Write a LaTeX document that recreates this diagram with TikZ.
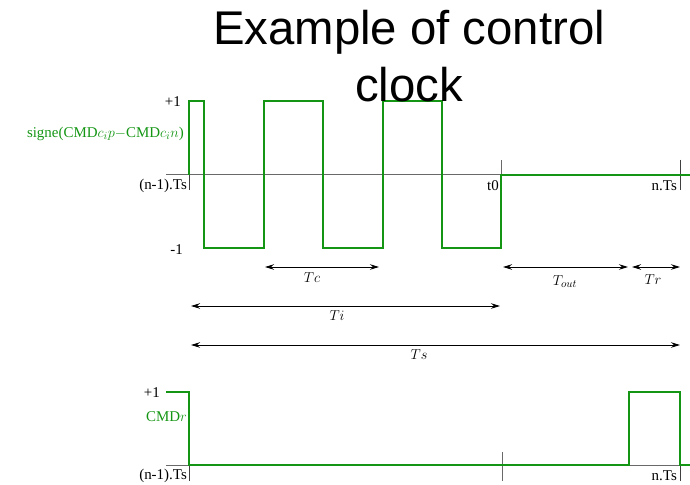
\documentclass[tikz,border=0pt]{standalone}
\usepackage{fontspec}
\setmainfont{Liberation Serif}
\newfontfamily\titlefont{Liberation Sans}
\usetikzlibrary{arrows.meta}
\definecolor{sigGreen}{RGB}{20,150,20}
\definecolor{axisGray}{RGB}{105,105,105}

\begin{document}
\begin{tikzpicture}[x=1bp, y=-1bp, >={Stealth[length=9bp, width=5.5bp]},
    sig/.style={sigGreen, line width=2bp},
    axe/.style={axisGray, line width=1bp},
    tck/.style={black!75, line width=0.9bp},
    lbl/.style={font=\fontsize{15}{17}\selectfont, inner sep=1bp},
    dim/.style={<->, line width=1bp}]
    \useasboundingbox (0,0) rectangle (690,485);

    % Upper chart: axis and time marks
    \coordinate (uStart) at (166,175);
    \coordinate (uEnd) at (690,175);
    \draw[axe] (uStart) -- (uEnd);
    \draw[tck] (189,175) -- (189,190);
    \draw[axe] (501,160) -- (501,175);
    \draw[tck] (680,160) -- (680,190);

    % Sign of the command: pulses between +1 (y=101) and -1 (y=248)
    \draw[sig] (189,175) -- (189,101) -- (204,101) -- (204,248)
        -- (264,248) -- (264,101) -- (323,101) -- (323,248)
        -- (383,248) -- (383,101) -- (442,101) -- (442,248)
        -- (501,248) -- (501,175) -- (uEnd);

    \node[lbl, anchor=east] (uPlus) at (182,102) {+1};
    \node[lbl, anchor=east] (uMinus) at (184,250) {-1};
    \node[lbl, anchor=east, text=sigGreen] (uSig) at (185,134)
        {signe(CMD$c_ip-$CMD$c_in$)};
    \node[lbl, anchor=east] (uLeft) at (188,186) {(n-1).Ts};
    \node[lbl, anchor=east] (uZero) at (500,186) {t0};
    \node[lbl, anchor=east] (uRight) at (678,186) {n.Ts};

    % Durations
    \coordinate (tcA) at (265,267);   \coordinate (tcB) at (379,267);
    \coordinate (toA) at (503,267);   \coordinate (toB) at (628,267);
    \coordinate (trA) at (632,267);   \coordinate (trB) at (680,267);
    \coordinate (tiA) at (191,306);   \coordinate (tiB) at (500,306);
    \coordinate (tsA) at (191,345);   \coordinate (tsB) at (680,345);
    \draw[dim] (tcA) -- (tcB);
    \draw[dim] (toA) -- (toB);
    \draw[dim] (trA) -- (trB);
    \draw[dim] (tiA) -- (tiB);
    \draw[dim] (tsA) -- (tsB);
    \node[lbl] (tc) at (312,278) {$Tc$};
    \node[lbl] (tout) at (565,282) {$T_{out}$};
    \node[lbl] (tr) at (653,280) {$Tr$};
    \node[lbl] (ti) at (337,316) {$Ti$};
    \node[lbl] (ts) at (419,355) {$Ts$};

    % Lower chart: CMDr
    \coordinate (lStart) at (166,465);
    \coordinate (lEnd) at (690,465);
    \draw[axe] (lStart) -- (lEnd);
    \draw[tck] (189,465) -- (189,481);
    \draw[axe] (502,452) -- (502,481);
    \draw[tck] (680,465) -- (680,481);
    \draw[sig] (166,392) -- (189,392) -- (189,465) -- (629,465)
        -- (629,392) -- (680,392) -- (680,465) -- (lEnd);

    \node[lbl, anchor=east] (lPlus) at (161,393) {+1};
    \node[lbl, anchor=east, text=sigGreen] (lSig) at (188,417) {CMD$r$};
    \node[lbl, anchor=east] (lLeft) at (188,476) {(n-1).Ts};
    \node[lbl, anchor=east] (lRight) at (678,476) {n.Ts};

    % Title, printed over the pulses
    \node[font=\titlefont\fontsize{47.5}{57}\selectfont, anchor=base] (title) at (409,45) {Example of control};
    \node[font=\titlefont\fontsize{47.5}{57}\selectfont, anchor=base] (titleB) at (409,102) {clock};
\end{tikzpicture}
\end{document}
